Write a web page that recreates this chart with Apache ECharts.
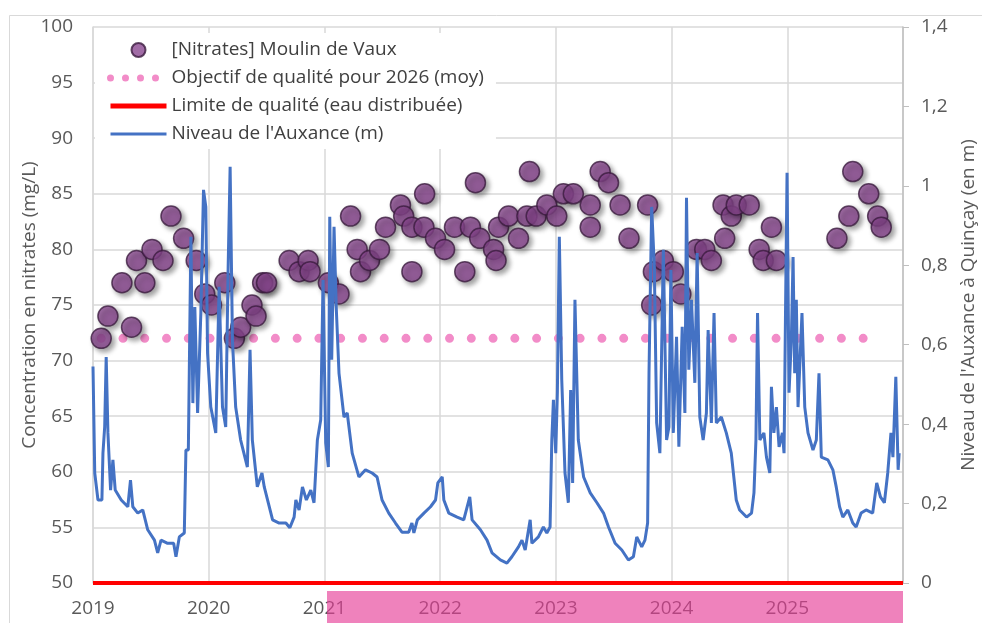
<!DOCTYPE html>
<html>
<head>
<meta charset="utf-8">
<script src="https://cdn.jsdelivr.net/npm/echarts@6/dist/echarts.min.js"></script>
<style>
  html, body { margin: 0; padding: 0; background: #fff; }
  #chart { width: 982px; height: 623px; }
</style>
</head>
<body>
<div id="chart"></div>
<script>
// Nitrates au Moulin de Vaux (mg/L) et niveau de l'Auxance à Quinçay (m)
const yearTicks = [2019, 2020, 2021, 2022, 2023, 2024, 2025, 2026];

const nitrateDates = [
  2019.071, 2019.129, 2019.250, 2019.333, 2019.376, 2019.448, 2019.510, 2019.605,
  2019.674, 2019.783, 2019.892, 2019.966, 2020.024, 2020.139, 2020.222, 2020.276,
  2020.374, 2020.409, 2020.466, 2020.500, 2020.695, 2020.781, 2020.859, 2020.876,
  2021.034, 2021.126, 2021.226, 2021.283, 2021.312, 2021.390, 2021.476, 2021.528,
  2021.657, 2021.685, 2021.756, 2021.756, 2021.860, 2021.866, 2021.960, 2022.038,
  2022.124, 2022.213, 2022.262, 2022.305, 2022.342, 2022.462, 2022.483, 2022.505,
  2022.591, 2022.677, 2022.750, 2022.772, 2022.830, 2022.922, 2023.008, 2023.065,
  2023.151, 2023.297, 2023.297, 2023.383, 2023.455, 2023.555, 2023.632, 2023.793,
  2023.828, 2023.843, 2023.929, 2024.015, 2024.080, 2024.215, 2024.287, 2024.344,
  2024.445, 2024.459, 2024.516, 2024.559, 2024.671, 2024.757, 2024.792, 2024.863,
  2024.906, 2025.429, 2025.532, 2025.566, 2025.704, 2025.781, 2025.812
];
const nitrateValues = [
  72, 74, 77, 73, 79, 77, 80, 79,
  83, 81, 79, 76, 75, 77, 72, 73,
  75, 74, 77, 77, 79, 78, 79, 78,
  77, 76, 83, 80, 78, 79, 80, 82,
  84, 83, 82, 78, 82, 85, 81, 80,
  82, 78, 82, 86, 81, 80, 79, 82,
  83, 81, 83, 87, 83, 84, 83, 85,
  85, 84, 82, 87, 86, 84, 81, 84,
  75, 78, 79, 78, 76, 80, 80, 79,
  84, 81, 83, 84, 84, 80, 79, 82,
  79, 81, 83, 87, 85, 83, 82
];

const levelDates = [
  2019.000, 2019.015, 2019.043, 2019.077, 2019.086, 2019.101, 2019.114, 2019.129,
  2019.152, 2019.172, 2019.192, 2019.244, 2019.301, 2019.324, 2019.344, 2019.387,
  2019.430, 2019.473, 2019.531, 2019.559, 2019.588, 2019.645, 2019.697, 2019.717,
  2019.746, 2019.789, 2019.803, 2019.824, 2019.832, 2019.846, 2019.863, 2019.880,
  2019.904, 2019.932, 2019.955, 2019.975, 2019.990, 2020.018, 2020.061, 2020.090,
  2020.119, 2020.147, 2020.168, 2020.185, 2020.205, 2020.233, 2020.276, 2020.334,
  2020.357, 2020.377, 2020.420, 2020.460, 2020.480, 2020.552, 2020.609, 2020.667,
  2020.701, 2020.738, 2020.753, 2020.781, 2020.810, 2020.844, 2020.882, 2020.910,
  2020.939, 2020.968, 2020.988, 2021.011, 2021.034, 2021.046, 2021.063, 2021.083,
  2021.102, 2021.126, 2021.169, 2021.197, 2021.240, 2021.298, 2021.355, 2021.412,
  2021.455, 2021.498, 2021.556, 2021.614, 2021.670, 2021.728, 2021.756, 2021.773,
  2021.803, 2021.860, 2021.917, 2021.960, 2021.980, 2022.018, 2022.032, 2022.075,
  2022.147, 2022.204, 2022.256, 2022.276, 2022.348, 2022.405, 2022.448, 2022.520,
  2022.577, 2022.620, 2022.677, 2022.707, 2022.735, 2022.778, 2022.793, 2022.849,
  2022.892, 2022.922, 2022.950, 2022.965, 2022.979, 2022.999, 2023.013, 2023.030,
  2023.051, 2023.079, 2023.108, 2023.128, 2023.145, 2023.165, 2023.194, 2023.240,
  2023.297, 2023.355, 2023.412, 2023.455, 2023.512, 2023.570, 2023.627, 2023.670,
  2023.699, 2023.742, 2023.770, 2023.793, 2023.805, 2023.828, 2023.851, 2023.871,
  2023.899, 2023.929, 2023.957, 2023.977, 2023.994, 2024.015, 2024.043, 2024.063,
  2024.092, 2024.115, 2024.129, 2024.149, 2024.172, 2024.201, 2024.221, 2024.244,
  2024.273, 2024.301, 2024.316, 2024.344, 2024.367, 2024.387, 2024.430, 2024.473,
  2024.516, 2024.559, 2024.588, 2024.605, 2024.648, 2024.691, 2024.712, 2024.729,
  2024.743, 2024.763, 2024.798, 2024.820, 2024.849, 2024.863, 2024.884, 2024.906,
  2024.929, 2024.958, 2024.972, 2024.984, 2024.998, 2025.015, 2025.035, 2025.050,
  2025.064, 2025.078, 2025.093, 2025.127, 2025.151, 2025.179, 2025.222, 2025.251,
  2025.274, 2025.294, 2025.351, 2025.394, 2025.423, 2025.452, 2025.480, 2025.523,
  2025.566, 2025.595, 2025.638, 2025.681, 2025.738, 2025.773, 2025.805, 2025.839,
  2025.868, 2025.896, 2025.913, 2025.938, 2025.958, 2025.967
];
const levelValues = [
  0.545, 0.277, 0.209, 0.209, 0.327, 0.393, 0.569, 0.378,
  0.234, 0.310, 0.234, 0.209, 0.192, 0.259, 0.192, 0.176,
  0.184, 0.134, 0.108, 0.076, 0.108, 0.100, 0.100, 0.066,
  0.116, 0.126, 0.335, 0.335, 0.528, 0.872, 0.453, 0.695,
  0.428, 0.680, 0.990, 0.947, 0.579, 0.443, 0.378, 0.746,
  0.443, 0.393, 0.796, 1.048, 0.612, 0.443, 0.360, 0.292,
  0.587, 0.360, 0.242, 0.277, 0.242, 0.159, 0.151, 0.151,
  0.139, 0.166, 0.209, 0.184, 0.242, 0.209, 0.234, 0.202,
  0.360, 0.411, 0.763, 0.353, 0.292, 0.922, 0.562, 0.897,
  0.695, 0.528, 0.418, 0.428, 0.327, 0.267, 0.285, 0.277,
  0.267, 0.209, 0.176, 0.151, 0.128, 0.128, 0.151, 0.126,
  0.159, 0.176, 0.192, 0.209, 0.252, 0.267, 0.209, 0.176,
  0.166, 0.159, 0.217, 0.159, 0.134, 0.108, 0.076, 0.058,
  0.050, 0.066, 0.091, 0.108, 0.083, 0.159, 0.100, 0.116,
  0.141, 0.126, 0.141, 0.360, 0.461, 0.327, 0.479, 0.872,
  0.511, 0.277, 0.202, 0.486, 0.252, 0.713, 0.360, 0.267,
  0.227, 0.202, 0.176, 0.141, 0.100, 0.083, 0.058, 0.066,
  0.116, 0.091, 0.108, 0.151, 0.528, 0.947, 0.796, 0.403,
  0.327, 0.839, 0.360, 0.393, 0.788, 0.378, 0.620, 0.343,
  0.645, 0.428, 0.970, 0.537, 0.713, 0.504, 0.831, 0.418,
  0.360, 0.428, 0.637, 0.403, 0.680, 0.403, 0.418, 0.378,
  0.327, 0.209, 0.184, 0.184, 0.166, 0.176, 0.227, 0.360,
  0.680, 0.360, 0.378, 0.317, 0.277, 0.494, 0.378, 0.443,
  0.343, 0.378, 0.327, 0.662, 1.033, 0.479, 0.612, 0.821,
  0.528, 0.713, 0.443, 0.680, 0.443, 0.378, 0.335, 0.360,
  0.528, 0.317, 0.310, 0.285, 0.242, 0.192, 0.166, 0.184,
  0.151, 0.141, 0.176, 0.184, 0.176, 0.252, 0.217, 0.202,
  0.277, 0.378, 0.317, 0.519, 0.285, 0.327
];

const objectifValue = 72;
const objectifPeriod = [2019.071, 2025.812];
const limiteValue = 50;
const limitePeriod = [2019, 2026];

const NAME_NITRATES = '[Nitrates] Moulin de Vaux';
const NAME_OBJECTIF = 'Objectif de qualité pour 2026 (moy)';
const NAME_LIMITE = 'Limite de qualité (eau distribuée)';
const NAME_NIVEAU = "Niveau de l'Auxance (m)";

const FONT = 'Open Sans';
const GREY = '#595959';
const PINK = '#f28cc8';
const RED = '#ff0000';
const BLUE = '#4472c4';

const chart = echarts.init(document.getElementById('chart'), null, { renderer: 'canvas' });

chart.setOption({
  animation: false,
  backgroundColor: '#fff',
  textStyle: { fontFamily: FONT },
  grid: { left: 93, right: 79, top: 27, bottom: 40, outerBoundsMode: 'none', containLabel: false },
  legend: {
    left: 95,
    top: 33,
    orient: 'vertical',
    backgroundColor: '#fff',
    padding: [7, 12, 5, 12],
    itemWidth: 56,
    itemHeight: 14,
    itemGap: 8,
    textStyle: { fontFamily: FONT, fontSize: 19, color: '#404040', lineHeight: 20 },
    data: [
      { name: NAME_NITRATES, icon: 'circle' },
      {
        name: NAME_OBJECTIF,
        itemStyle: { opacity: 0 },
        lineStyle: { color: PINK, width: 7, type: [0, 15], cap: 'round' },
      },
      { name: NAME_LIMITE, itemStyle: { opacity: 0 }, lineStyle: { color: RED, width: 5 } },
      { name: NAME_NIVEAU, itemStyle: { opacity: 0 }, lineStyle: { color: BLUE, width: 3 } },
    ],
  },
  xAxis: {
    type: 'value',
    min: yearTicks[0],
    max: yearTicks[yearTicks.length - 1],
    interval: 1,
    axisLine: { show: false },
    axisTick: { show: false },
    axisLabel: {
      color: GREY,
      fontSize: 19,
      margin: 16,
      formatter: (v) => (v < yearTicks[yearTicks.length - 1] ? String(v) : ''),
    },
    splitLine: { show: true, lineStyle: { color: '#d9d9d9', width: 1.5 } },
  },
  yAxis: [
    {
      type: 'value',
      min: 50,
      max: 100,
      interval: 5,
      name: 'Concentration en nitrates (mg/L)',
      nameLocation: 'middle',
      nameGap: 54,
      nameMoveOverlap: false,
      nameTextStyle: { color: GREY, fontSize: 19 },
      axisLine: { show: true, lineStyle: { color: '#d9d9d9', width: 1.5 } },
      axisTick: { show: false },
      axisLabel: { color: GREY, fontSize: 19, margin: 20 },
      splitLine: { show: true, lineStyle: { color: '#d9d9d9', width: 1.5 } },
    },
    {
      type: 'value',
      min: 0,
      max: 1.4,
      interval: 0.2,
      position: 'right',
      name: "Niveau de l'Auxance à Quinçay (en m)",
      nameLocation: 'middle',
      nameGap: 56,
      nameMoveOverlap: false,
      nameRotate: 90,
      nameTextStyle: { color: GREY, fontSize: 19 },
      axisLine: { show: true, lineStyle: { color: '#bfbfbf', width: 1.5 } },
      axisTick: { show: true, inside: false, length: 6, lineStyle: { color: '#bfbfbf' } },
      axisLabel: {
        color: GREY,
        fontSize: 19,
        margin: 18,
        formatter: (v) => String(+v.toFixed(1)).replace('.', ','),
      },
      splitLine: { show: false },
    },
  ],
  graphic: [
    {
      type: 'rect',
      z: -10,
      shape: { x: 9.5, y: 15.5, width: 1000, height: 700 },
      style: { fill: 'none', stroke: '#d9d9d9', lineWidth: 1 },
    },
    {
      type: 'rect',
      z: 100,
      shape: { x: 327, y: 591, width: 576, height: 40 },
      style: { fill: 'rgba(230,60,150,0.64)' },
    },
  ],
  series: [
    {
      name: NAME_NITRATES,
      type: 'scatter',
      yAxisIndex: 0,
      z: 2,
      symbol: 'circle',
      symbolSize: 20,
      data: nitrateDates.map((d, i) => [d, nitrateValues[i]]),
      itemStyle: {
        color: '#8a4790',
        borderColor: '#3b1c3f',
        borderWidth: 1.5,
        shadowColor: 'rgba(0,0,0,0.45)',
        shadowBlur: 5,
        shadowOffsetX: 3,
        shadowOffsetY: 3,
      },
    },
    {
      name: NAME_OBJECTIF,
      type: 'line',
      yAxisIndex: 0,
      z: 1,
      symbol: 'none',
      data: objectifPeriod.map((d) => [d, objectifValue]),
      itemStyle: { color: PINK },
      lineStyle: { color: PINK, width: 9, type: [0, 21.77], cap: 'round' },
    },
    {
      name: NAME_LIMITE,
      type: 'line',
      yAxisIndex: 0,
      z: 3,
      symbol: 'none',
      data: limitePeriod.map((d) => [d, limiteValue]),
      itemStyle: { color: RED },
      lineStyle: { color: RED, width: 4 },
    },
    {
      name: NAME_NIVEAU,
      type: 'line',
      yAxisIndex: 1,
      z: 4,
      symbol: 'none',
      data: levelDates.map((d, i) => [d, levelValues[i]]),
      itemStyle: { color: BLUE },
      lineStyle: { color: BLUE, width: 3 },
    },
  ],
});
</script>
</body>
</html>
